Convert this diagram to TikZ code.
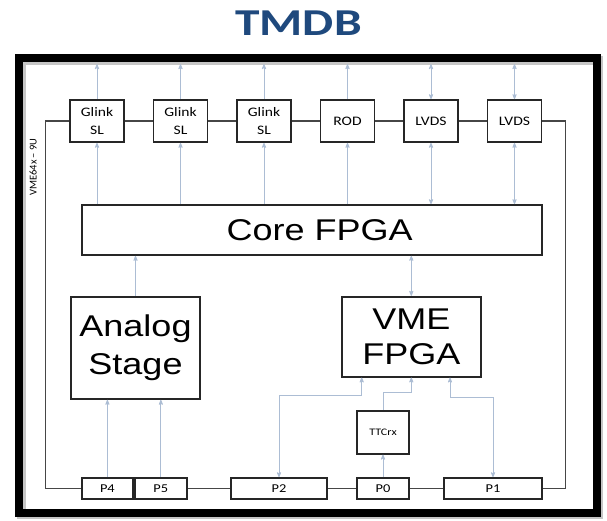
\documentclass[tikz,border=0pt]{standalone}
\usepackage{fontspec}
\setmainfont[FakeStretch=1.2]{Carlito}
\newfontfamily\bigsans[FakeStretch=1.2]{Liberation Sans}
\newfontfamily\titlefont[FakeStretch=1.3]{Carlito}
\newfontfamily\sidefont{Carlito}
\usetikzlibrary{arrows}
\usetikzlibrary{positioning}
\definecolor{titleblue}{RGB}{31,73,125}
\definecolor{sigcol}{RGB}{172,189,212}
\definecolor{buscol}{RGB}{70,70,70}
\tikzset{
    blk/.style={draw=black!85, line width=1.7pt, fill=white, rectangle,
        inner sep=0pt, align=center},
    topbox/.style={blk, minimum width=54pt, minimum height=42pt,
        font=\fontsize{13}{18}\selectfont},
    port/.style={blk, minimum height=21pt, font=\fontsize{12}{12}\selectfont},
    sig/.style={draw=sigcol, line width=0.8pt, >=stealth'},
    bus/.style={draw=buscol, line width=1.3pt}
}

\begin{document}
\begin{tikzpicture}[x=1pt, y=-1pt, node distance=83.5pt]
        \useasboundingbox (0,0) rectangle (607,520);
        % board frame
        \draw[gray!45, line width=9pt] (21,60) rectangle (598.5,514.5);
        \draw[black, line width=8pt] (19,58) rectangle (596.5,512.5);
        \node[font=\titlefont\bfseries\fontsize{38}{38}\selectfont,
            text=titleblue] (title) at (298.5,23) {TMDB};
        \node[rotate=90, font=\sidefont\fontsize{10.5}{10.5}\selectfont]
            (side) at (33,167) {VME64x – 9U};

        % output links
        \node[topbox] (gl1) at (97,121) {Glink\\SL};
        \node[topbox, right of=gl1] (gl2) {Glink\\SL};
        \node[topbox, right of=gl2] (gl3) {Glink\\SL};
        \node[topbox, right of=gl3] (rod) {ROD};
        \node[topbox, right of=rod] (lvds1) {LVDS};
        \node[topbox, right of=lvds1] (lvds2) {LVDS};

        % FPGAs and analog part
        \node[blk, minimum width=460pt, minimum height=50pt,
            font=\bigsans\fontsize{30}{36}\selectfont] (core) at (311.7,230)
            {\hspace{16pt}Core FPGA};
        \node[blk, minimum width=129pt, minimum height=102pt,
            font=\bigsans\fontsize{30}{38}\selectfont] (analog) at (135.5,348)
            {Analog\\Stage};
        \node[blk, minimum width=139pt, minimum height=80pt,
            font=\bigsans\fontsize{30}{35}\selectfont] (vme) at (411.3,336.7)
            {VME\\FPGA};
        \node[blk, minimum width=52pt, minimum height=43pt,
            font=\fontsize{10}{10}\selectfont] (ttc) at (383,432.3) {TTCrx};

        % backplane connectors
        \node[port, minimum width=51.5pt] (p4) at (107.4,488.5) {P4};
        \node[port, minimum width=52pt, right=0pt of p4] (p5) {P5};
        \node[port, minimum width=96pt] (p2) at (279,488.5) {P2};
        \node[port, minimum width=52pt] (p0) at (383,488.5) {P0};
        \node[port, minimum width=98pt] (p1) at (493,488.5) {P1};

        % ring bus
        \draw[bus] (gl1.west) -- ++(-24,0) |- (p4.west);
        \draw[bus] (lvds2.east) -- ++(23,0) |- (p1.east);
        \draw[bus] (gl1.east) -- (gl2.west);
        \draw[bus] (gl2.east) -- (gl3.west);
        \draw[bus] (gl3.east) -- (rod.west);
        \draw[bus] (rod.east) -- (lvds1.west);
        \draw[bus] (lvds1.east) -- (lvds2.west);
        \draw[bus] (p5.east) -- (p2.west);
        \draw[bus] (p2.east) -- (p0.west);
        \draw[bus] (p0.east) -- (p1.west);

        % signals
        \foreach \b in {gl1,gl2,gl3,rod} {
            \draw[sig,->] (\b.north) -- ++(0,-35);
            \draw[sig,->] (core.north -| \b.south) -- (\b.south);
        }
        \foreach \b in {lvds1,lvds2} {
            \draw[sig,<->] (\b.north) -- ++(0,-35);
            \draw[sig,<->] (core.north -| \b.south) -- (\b.south);
        }
        \draw[sig,->] (analog.north) -- (analog.north |- core.south);
        \draw[sig,<->] (vme.north) -- (vme.north |- core.south);
        \draw[sig,->] (p4.north) -- (p4.north |- analog.south);
        \draw[sig,->] (p5.north) -- (p5.north |- analog.south);
        \draw[sig,<->] ([xshift=-49.6pt]vme.south) -- ++(0,18.3) -| (p2.north);
        \draw[sig,->] (ttc.north) -- ++(0,-17.5) -| (vme.south);
        \draw[sig,<->] ([xshift=38.7pt]vme.south) -- ++(0,20) -| (p1.north);
        \draw[sig,->] (p0.north) -- (ttc.south);
\end{tikzpicture}
\end{document}
